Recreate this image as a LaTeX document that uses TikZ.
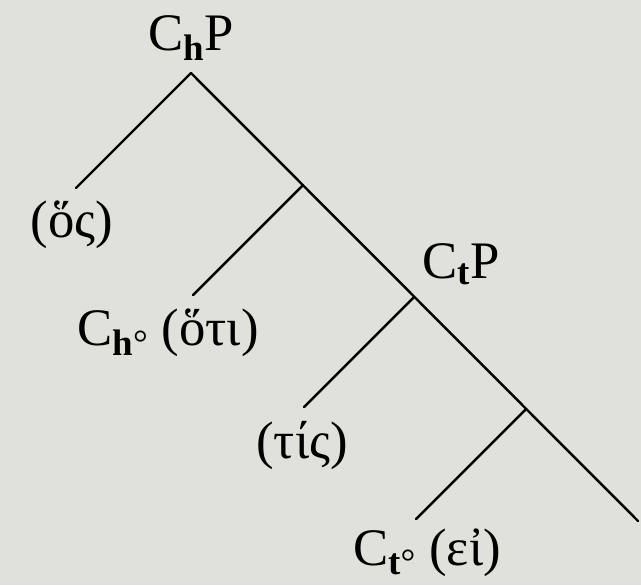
\documentclass[tikz,border=0pt]{standalone}
\usepackage{fontspec}
\setmainfont{Liberation Serif}
\usetikzlibrary{positioning}
\definecolor{paper}{RGB}{225,225,219}

\tikzset{
  branch/.style={line width=1.4pt, line cap=round, line join=round},
  treetext/.style={font=\fontsize{30}{36}\selectfont, inner sep=0pt, anchor=base},
}

\begin{document}
\begin{tikzpicture}[x=0.02cm, y=-0.02cm]
\fill[paper] (0,0) rectangle (641,585);
\useasboundingbox (0,0) rectangle (641,585);
\node[treetext] (chp) at (191,50) {C\textsubscript{\textbf{h}}P};
\node[treetext] (os) at (72,237) {(ὅς)};
\node[treetext] (oti) at (168,345) {C\textsubscript{\textbf{h}°} (ὅτι)};
\node[treetext] (ctp) at (461,278) {C\textsubscript{\textbf{t}}P};
\node[treetext] (tis) at (302,458) {(τίς)};
\node[treetext] (ei) at (427,565) {C\textsubscript{\textbf{t}°} (εἰ)};
\coordinate (top) at (191,73);
\coordinate (j1) at (303,185);
\coordinate (j2) at (414,297);
\coordinate (j3) at (526,409);
\coordinate (tail) at (638,521);
\coordinate (e-os) at (76,188);
\coordinate (e-oti) at (193,295);
\coordinate (e-tis) at (304,407);
\coordinate (e-ei) at (416,519);
\draw[branch] (e-os) -- (top) -- (tail);
\draw[branch] (j1) -- (e-oti);
\draw[branch] (j2) -- (e-tis);
\draw[branch] (j3) -- (e-ei);
\end{tikzpicture}
\end{document}
